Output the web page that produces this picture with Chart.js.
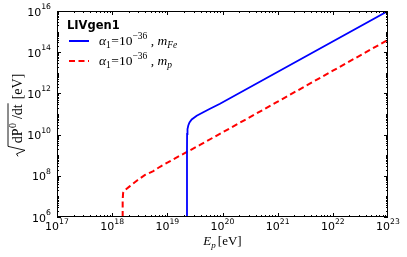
<!DOCTYPE html>
<html>
<head>
<meta charset="utf-8">
<script src="https://cdn.jsdelivr.net/npm/chart.js@4.4.1/dist/chart.umd.min.js"></script>
<style>
  html, body { margin: 0; padding: 0; background: #fff; }
  #wrap { width: 407px; height: 257px; }
</style>
</head>
<body>
<div id="wrap"><canvas id="chart"></canvas></div>
<script>
  // values (E_p in eV, rate in eV)
  const feEnergy = [2.272e19, 2.272e19, 2.281e19, 2.320e19, 2.399e19, 2.522e19, 2.765e19, 3.406e19, 4.486e19, 5.933e19, 9.004e19, 1e23];
  const feRate   = [1e6, 1.79e9, 1.07e10, 1.87e10, 2.77e10, 3.87e10, 5.41e10, 8.18e10, 1.22e11, 1.79e11, 3.13e11, 1e16];
  const pEnergy  = [1.55e18, 1.55e18, 1.58e18, 1.71e18, 2.10e18, 2.79e18, 3.94e18, 5.57e18, 7.36e18, 1.04e19, 1.38e19, 3.91e19, 1e21, 1e22, 1e23];
  const pRate    = [1e6, 6.76e6, 1.48e7, 2.04e7, 3.16e7, 5.75e7, 1.10e8, 1.70e8, 2.75e8, 4.57e8, 7.08e8, 3.16e9, 3.98e11, 1.26e13, 3.98e14];

  const xTickExps = [17, 18, 19, 20, 21, 22, 23];
  const yTickExps = [6, 8, 10, 12, 14, 16];
  const legendTitle = 'LIVgen1';

  const SANS = '"DejaVu Sans", sans-serif';
  const SERIF = '"Liberation Serif", "DejaVu Serif", serif';

  const toPoints = (xs, ys) => xs.map((x, i) => ({ x, y: ys[i] }));

  // text runs drawn one after another (poor man's mathtext)
  function runsWidth(ctx, runs) {
    let w = 0;
    for (const r of runs) { ctx.font = r.font; w += ctx.measureText(r.t).width + (r.gap || 0); }
    return w;
  }
  function drawRuns(ctx, x, y, runs) {
    for (const r of runs) {
      ctx.font = r.font;
      ctx.fillText(r.t, x, y + (r.dy || 0));
      x += ctx.measureText(r.t).width + (r.gap || 0);
    }
    return x;
  }

  function powRuns(exp) {
    return [
      { t: '10', font: '11px ' + SANS },
      { t: String(exp), font: '7.7px ' + SANS, dy: -6.5 }
    ];
  }

  const decorPlugin = {
    id: 'decor',
    afterDraw(chart) {
      const ctx = chart.ctx;
      const { left, right, top, bottom } = chart.chartArea;
      const xs = chart.scales.x, ys = chart.scales.y;
      ctx.save();
      ctx.fillStyle = '#000';
      ctx.strokeStyle = '#000';
      ctx.lineWidth = 1;

      // frame
      ctx.strokeRect(left + 0.5, top + 0.5, right - left - 1, bottom - top - 1);

      // x ticks, inward on top and bottom
      ctx.beginPath();
      for (let e = xTickExps[0]; e < xTickExps[xTickExps.length - 1]; e++) {
        for (let k = 1; k <= 9; k++) {
          const px = Math.round(xs.getPixelForValue(k * Math.pow(10, e))) + 0.5;
          const len = k === 1 ? 4 : 2;
          ctx.moveTo(px, bottom); ctx.lineTo(px, bottom - len);
          ctx.moveTo(px, top); ctx.lineTo(px, top + len);
        }
      }
      // y ticks, inward on left and right
      for (let e = 6; e < 16; e++) {
        for (let k = 1; k <= 9; k++) {
          const py = Math.round(ys.getPixelForValue(k * Math.pow(10, e))) + 0.5;
          const len = (k === 1 && e % 2 === 0) ? 4 : 2;
          ctx.moveTo(left, py); ctx.lineTo(left + len, py);
          ctx.moveTo(right, py); ctx.lineTo(right - len, py);
        }
      }
      ctx.stroke();

      // tick labels
      ctx.textBaseline = 'alphabetic';
      ctx.textAlign = 'left';
      for (const e of xTickExps) {
        const px = xs.getPixelForValue(Math.pow(10, e));
        const runs = powRuns(e);
        const w = runsWidth(ctx, runs);
        drawRuns(ctx, px - w / 2, bottom + 13, runs);
      }
      for (const e of yTickExps) {
        const py = ys.getPixelForValue(Math.pow(10, e));
        const runs = powRuns(e);
        const w = runsWidth(ctx, runs);
        drawRuns(ctx, left - 6 - w, py + 4.5, runs);
      }

      // x title
      const xt = [
        { t: 'E', font: 'italic 13px ' + SERIF },
        { t: 'p', font: 'italic 9px ' + SERIF, dy: 3, gap: 2 },
        { t: '[eV]', font: '13px ' + SERIF }
      ];
      const xw = runsWidth(ctx, xt);
      drawRuns(ctx, (left + right) / 2 - xw / 2, bottom + 28, xt);

      // y title, rotated
      ctx.save();
      ctx.translate(22, (top + bottom) / 2 + 1);
      ctx.rotate(-Math.PI / 2);
      const rad = [
        { t: 'dP', font: '14px ' + SERIF, gap: 0.5 },
        { t: '0', font: '10px ' + SERIF, dy: -6, gap: 4 },
        { t: '/dt', font: '14px ' + SERIF }
      ];
      const tail = [{ t: '[eV]', font: '14px ' + SERIF }];
      const rw = runsWidth(ctx, rad), tw = runsWidth(ctx, tail);
      const sq = 11, pad = 2, sep = 5;
      const total = sq + pad + rw + sep + tw;
      const x0 = -total / 2;
      ctx.beginPath();
      ctx.lineWidth = 0.9;
      ctx.moveTo(x0, -4);
      ctx.lineTo(x0 + 2.5, -5.5);
      ctx.lineTo(x0 + 6, 3);
      ctx.lineTo(x0 + sq - 1, -14);
      ctx.lineTo(x0 + sq + pad + rw + 1, -14);
      ctx.stroke();
      drawRuns(ctx, x0 + sq + pad, 0, rad);
      drawRuns(ctx, x0 + sq + pad + rw + sep, 0, tail);
      ctx.restore();

      // legend
      ctx.font = 'bold 11.5px ' + SANS;
      ctx.fillText(legendTitle, left + 10, top + 18);
      const entries = [
        { color: '#0000ff', dash: [], sub: 'Fe', y: top + 30 },
        { color: '#ff0000', dash: [6, 3.5], sub: 'p', y: top + 50 }
      ];
      for (const en of entries) {
        ctx.save();
        ctx.strokeStyle = en.color;
        ctx.lineWidth = 2;
        ctx.setLineDash(en.dash);
        ctx.beginPath();
        ctx.moveTo(left + 12, en.y);
        ctx.lineTo(left + 32, en.y);
        ctx.stroke();
        ctx.restore();
        drawRuns(ctx, left + 42, en.y + 4, [
          { t: 'α', font: 'italic 13.5px ' + SERIF },
          { t: '1', font: '9.5px ' + SERIF, dy: 3, gap: 0.5 },
          { t: '=', font: '13.5px ' + SERIF },
          { t: '10', font: '13.5px ' + SERIF },
          { t: '−36', font: '9.5px ' + SERIF, dy: -6 },
          { t: ' , ', font: '13.5px ' + SERIF },
          { t: 'm', font: 'italic 13.5px ' + SERIF },
          { t: en.sub, font: 'italic 9.5px ' + SERIF, dy: 3 }
        ]);
      }
      ctx.restore();
    }
  };

  new Chart(document.getElementById('chart'), {
    type: 'line',
    data: {
      datasets: [
        {
          label: 'm_Fe',
          data: toPoints(feEnergy, feRate),
          borderColor: '#0000ff',
          borderWidth: 1.8,
          pointRadius: 0,
          tension: 0,
          fill: false
        },
        {
          label: 'm_p',
          data: toPoints(pEnergy, pRate),
          borderColor: '#ff0000',
          borderWidth: 2,
          borderDash: [6, 3.5],
          pointRadius: 0,
          tension: 0,
          fill: false
        }
      ]
    },
    options: {
      responsive: true,
      maintainAspectRatio: false,
      animation: false,
      devicePixelRatio: 1,
      layout: { padding: { left: 57, right: 19, top: 11, bottom: 40 } },
      plugins: { legend: { display: false }, tooltip: { enabled: false } },
      scales: {
        x: {
          type: 'logarithmic', min: 1e17, max: 1e23,
          ticks: { display: false }, grid: { display: false }, border: { display: false },
          afterFit: s => { s.height = 0; }
        },
        y: {
          type: 'logarithmic', min: 1e6, max: 1e16,
          ticks: { display: false }, grid: { display: false }, border: { display: false },
          afterFit: s => { s.width = 0; }
        }
      }
    },
    plugins: [decorPlugin]
  });
</script>
</body>
</html>
